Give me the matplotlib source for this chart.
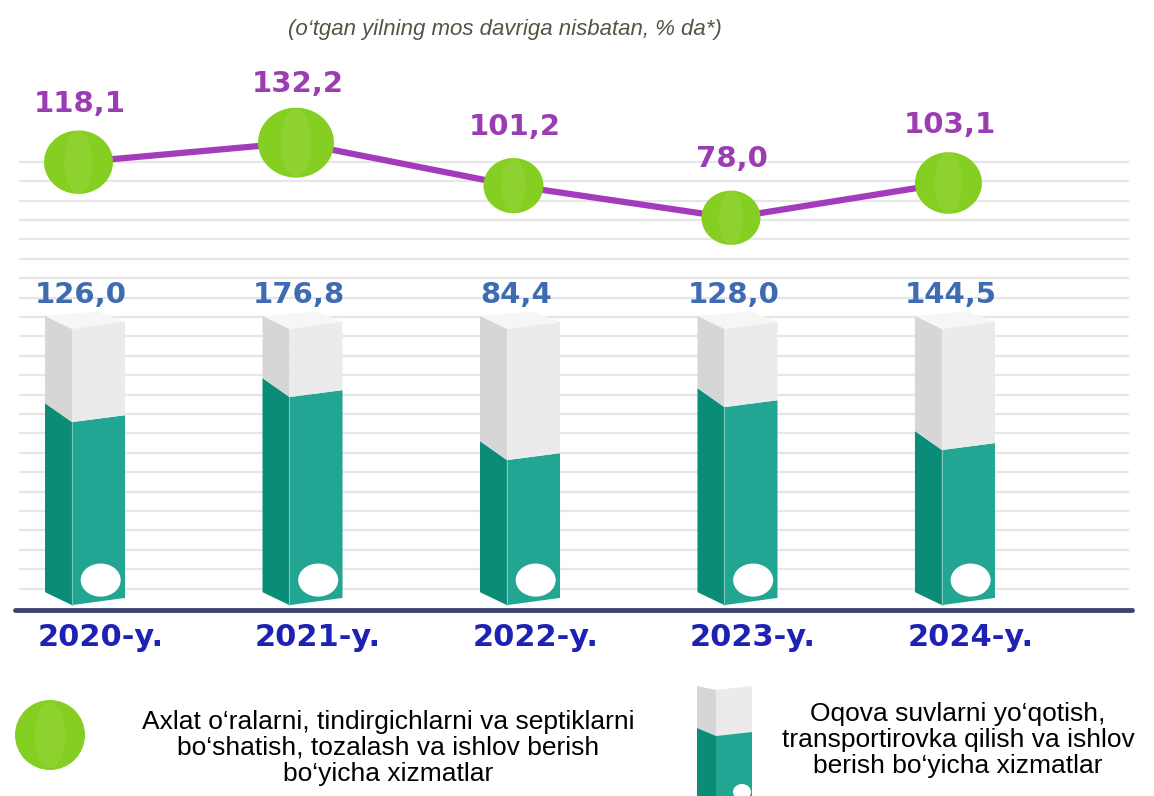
import matplotlib
matplotlib.use("Agg")
import matplotlib.pyplot as plt
from matplotlib.patches import Polygon, Ellipse
from matplotlib.path import Path
import numpy as np

# data
years = ["2020-y.", "2021-y.", "2022-y.", "2023-y.", "2024-y."]
waste_growth = [118.1, 132.2, 101.2, 78.0, 103.1]      # green dots / purple line
sewage_growth = [126.0, 176.8, 84.4, 128.0, 144.5]     # bar labels
fill_level = [64.6, 73.3, 51.4, 69.8, 54.9]            # teal fill of each bar (% of bar)

title = "(o\u2018tgan yilning mos davriga nisbatan, % da*)"
legend_waste = ("Axlat o\u2018ralarni, tindirgichlarni va septiklarni\n"
                "bo\u2018shatish, tozalash va ishlov berish\n"
                "bo\u2018yicha xizmatlar")
legend_sewage = ("Oqova suvlarni yo\u2018qotish,\n"
                 "transportirovka qilish va ishlov\n"
                 "berish bo\u2018yicha xizmatlar")

W, H = 1154, 796
fig = plt.figure(figsize=(W / 100, H / 100), dpi=100)
fig.patch.set_facecolor("white")

ax = fig.add_axes([15 / W, (H - 608) / H, (1132 - 15) / W, (608 - 90) / H])
ax.set_xlim(-0.322, 4.814)
ax.set_ylim(0, 180)
ax.axis("off")

# background rules
px_unit = 518 / 180
for k in range(1, 24):
    ax.axhline(k * 19.4 / px_unit, xmin=5 / 1117, xmax=1113 / 1117,
               color="#E6E6E6", lw=1.6, zorder=0)
ax.axhline(-0.7, color="#3D4573", lw=3.5, zorder=1, clip_on=False,
           solid_capstyle="round")

teal_side, teal_front = "#0B8C77", "#22A693"
grey_side, grey_front, grey_top = "#D6D6D6", "#EBEBEB", "#F6F6F6"

x = np.arange(len(years))
for i, f in enumerate(fill_level):
    L, M, R = i - 0.184, i - 0.060, i + 0.184
    ax.add_patch(Polygon([(L, 5.5), (M, 1.0), (M, f), (L, f + 6.6)],
                         closed=True, fc=teal_side, ec="none", zorder=2))
    ax.add_patch(Polygon([(M, 1.0), (R, 3.5), (R, f + 2.4), (M, f)],
                         closed=True, fc=teal_front, ec="none", zorder=2))
    ax.add_patch(Polygon([(L, f + 6.6), (M, f), (M, 97), (L, 101.5)],
                         closed=True, fc=grey_side, ec="none", zorder=2))
    ax.add_patch(Polygon([(M, f), (R, f + 2.4), (R, 99.5), (M, 97)],
                         closed=True, fc=grey_front, ec="none", zorder=2))
    ax.add_patch(Polygon([(L, 101.5), (M, 97), (R, 99.5), (L + 0.244, 103)],
                         closed=True, fc=grey_top, ec="none", zorder=2))
    ax.plot([M, M], [1.0, f], color="#7CC9BC", lw=0.8, zorder=3)
    ax.add_patch(Ellipse(((M + R) / 2 + 0.01, 9.7), 0.184, 11.5,
                         fc="white", ec="none", zorder=3))

for i, v in enumerate(sewage_growth):
    ax.annotate(f"{v:.1f}".replace(".", ","), (i, 100), xytext=(-3, 18),
                textcoords="offset points", ha="center", va="center",
                fontsize=21, fontweight="bold", color="#3F6BB3",
                family="DejaVu Sans")

for i, yl in enumerate(years):
    ax.annotate(yl, (i, 0), xytext=(11, -21), textcoords="offset points",
                ha="center", va="center", fontsize=22, fontweight="bold",
                color="#1E22B4", family="DejaVu Sans", annotation_clip=False)

# line series on a twin scale
ax2 = ax.twinx()
ax2.set_ylim(-203.6, 170.2)
ax2.axis("off")
xl = x - 0.03
ax2.plot(xl, waste_growth, color="#A43BBD", lw=4.5, zorder=4)

t = np.linspace(0, 2 * np.pi, 60)
oval = Path(np.column_stack([np.cos(t), 0.92 * np.sin(t)]))
dot_w = [69, 76, 60, 59, 67]
ax2.scatter(xl, waste_growth, s=[(w * 0.72) ** 2 for w in dot_w], marker=oval,
            color="#84CF22", edgecolors="none", zorder=5)
band = Path(np.column_stack([0.45 * np.cos(t), np.sin(t)]))
ax2.scatter(xl, waste_growth, s=[(w * 0.72 * 0.9) ** 2 for w in dot_w], marker=band,
            color="#A6DC4E", alpha=0.3, edgecolors="none", zorder=6)

for xi, v in zip(xl, waste_growth):
    ax2.annotate(f"{v:.1f}".replace(".", ","), (xi, v), xytext=(1, 42),
                 textcoords="offset points", ha="center", va="center",
                 fontsize=21, fontweight="bold", color="#9B3DB2",
                 family="DejaVu Sans")

fig.text(505 / W, 1 - 30 / H, title, ha="center", va="center",
         fontsize=16, style="italic", color="#4F5745", family="Liberation Sans")

# legend
lg = fig.add_axes([0, 0, 1, 1], zorder=-1)
lg.set_xlim(0, W)
lg.set_ylim(H, 0)
lg.axis("off")
lg.add_patch(Ellipse((50, 735), 70, 70, fc="#84CF22", ec="none"))
lg.add_patch(Ellipse((50, 735), 30, 66, fc="#A6DC4E", ec="none", alpha=0.3))
lg.add_patch(Polygon([(697, 686), (716, 690), (716, 736), (697, 728)], fc=grey_side, ec="none"))
lg.add_patch(Polygon([(716, 690), (752, 686), (752, 732), (716, 736)], fc=grey_front, ec="none"))
lg.add_patch(Polygon([(697, 728), (716, 736), (716, 800), (697, 800)], fc=teal_side, ec="none"))
lg.add_patch(Polygon([(716, 736), (752, 732), (752, 800), (716, 800)], fc=teal_front, ec="none"))
lg.add_patch(Ellipse((742, 792), 18, 16, fc="white", ec="none"))

fig.text(388 / W, 1 - 748 / H, legend_waste, ha="center", va="center",
         fontsize=19, color="black", family="Liberation Sans", linespacing=1.12)
fig.text(958 / W, 1 - 740 / H, legend_sewage, ha="center", va="center",
         fontsize=19, color="black", family="Liberation Sans", linespacing=1.12)

fig.savefig("out.png", dpi=100, facecolor="white")
